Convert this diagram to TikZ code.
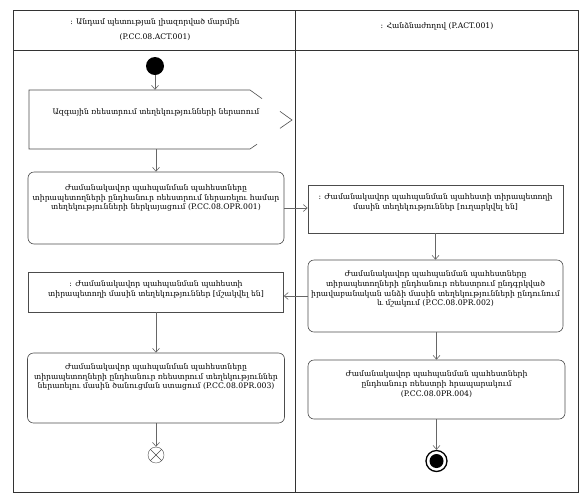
\documentclass[tikz,border=0pt]{standalone}
\usepackage{fontspec}
\setmainfont{DejaVu Serif}
\usetikzlibrary{arrows.meta}

\begin{document}
\begin{tikzpicture}[x=1pt,y=-1pt,font=\fontsize{7.7}{9.7}\selectfont,
  lane/.style={draw=black!80,line width=1pt},
  actbox/.style={draw=black!70,line width=0.6pt,rounded corners=6pt,inner sep=0pt},
  objbox/.style={draw=black!70,line width=0.6pt,inner sep=0pt},
  txt/.style={align=center,inner sep=1pt},
  flow/.style={draw=black!60,line width=0.6pt,-{Straight Barb[length=4pt,width=7pt]}}]
  \useasboundingbox (0,0) rectangle (583,499);

  % swimlanes
  \draw[lane] (13,10) rectangle (578,492);
  \draw[lane] (13,50) -- (578,50);
  \draw[lane] (295,10) -- (295,492);
  \node[txt,font=\fontsize{7.7}{15}\selectfont] (lane1) at (155,30)
    {: Անդամ պետության լիազորված մարմին\\(P.CC.08.ACT.001)};
  \node[txt] (lane2) at (437,26) {: Հանձնաժողով (P.ACT.001)};

  % left lane
  \node[circle,fill=black,minimum size=18pt,inner sep=0pt] (start) at (155,66) {};
  \node[minimum width=221pt,minimum height=59pt,inner sep=0pt] (sig) at (139.5,119.5) {};
  \draw[black!70,line width=0.6pt] (262,98.6) -- (250,90) -- (29,90) -- (29,149) -- (250,149) -- (257,144.2);
  \draw[black!70,line width=0.6pt] (280,111.4) -- (292,120) -- (280,128.3);
  \node[txt] (sigt) at (156,112) {Ազգային ռեեստրում տեղեկությունների ներառում};

  \node[actbox,minimum width=256pt,minimum height=72pt] (a1) at (156,208) {};
  \node[txt] (a1t) at (156,198)
    {Ժամանակավոր պահպանման պահեստները\\
     տիրապետողների ընդհանուր ռեեստրում ներառելու համար\\
     տեղեկությունների ներկայացում (P.CC.08.OPR.001)};

  \node[objbox,minimum width=255pt,minimum height=40pt] (o2) at (156,292) {};
  \node[txt] (o2t) at (156,289)
    {: Ժամանակավոր պահպանման պահեստի\\
     տիրապետողի մասին տեղեկություններ [մշակվել են]};

  \node[actbox,minimum width=257pt,minimum height=70pt] (a3) at (156,388) {};
  \node[txt] (a3t) at (156,377)
    {Ժամանակավոր պահպանման պահեստները\\
     տիրապետողների ընդհանուր ռեեստրում տեղեկություններ\\
     ներառելու մասին ծանուցման ստացում (P.CC.08.0PR.003)};

  \node[circle,draw=black!70,fill=white,minimum size=16pt,inner sep=0pt] (ff) at (156,455) {};
  \draw[black!70] (ff.north east) -- (ff.south west);
  \draw[black!70] (ff.north west) -- (ff.south east);

  % right lane
  \node[objbox,minimum width=255pt,minimum height=48pt] (o1) at (435.5,209) {};
  \node[txt] (o1t) at (435.5,202)
    {: Ժամանակավոր պահպանման պահեստի տիրապետողի\\
     մասին տեղեկություններ [ուղարկվել են]};

  \node[actbox,minimum width=255pt,minimum height=72pt] (a2) at (435.5,296) {};
  \node[txt] (a2t) at (435.5,289)
    {Ժամանակավոր պահպանման պահեստները\\
     տիրապետողների ընդհանուր ռեեստրում ընդգրկված\\
     իրավաբանական անձի մասին տեղեկությունների ընդունում\\
     և մշակում (P.CC.08.0PR.002)};

  \node[actbox,minimum width=257pt,minimum height=59pt] (a4) at (436.5,389.5) {};
  \node[txt] (a4t) at (436.5,384)
    {Ժամանակավոր պահպանման պահեստների\\
     ընդհանուր ռեեստրի հրապարակում\\
     (P.CC.08.0PR.004)};

  \node[circle,draw=black,line width=1.3pt,minimum size=21pt,inner sep=0pt] (fin) at (436.5,461) {};
  \fill[black] (fin.center) circle (7pt);

  % flows
  \draw[flow] (start) -- (start |- sig.north);
  \draw[flow] (sig.south -| a1) -- (a1.north);
  \draw[flow] (a1.east) -- (a1.east -| o1.west);
  \draw[flow] (o1.south) -- (a2.north);
  \draw[flow] (a2.west) -- (a2.west -| o2.east);
  \draw[flow] (o2.south) -- (a3.north);
  \draw[flow] (a3.south) -- (ff.north);
  \draw[flow] (a2.south -| a4) -- (a4.north);
  \draw[flow] (a4.south) -- (fin.north);
\end{tikzpicture}
\end{document}
